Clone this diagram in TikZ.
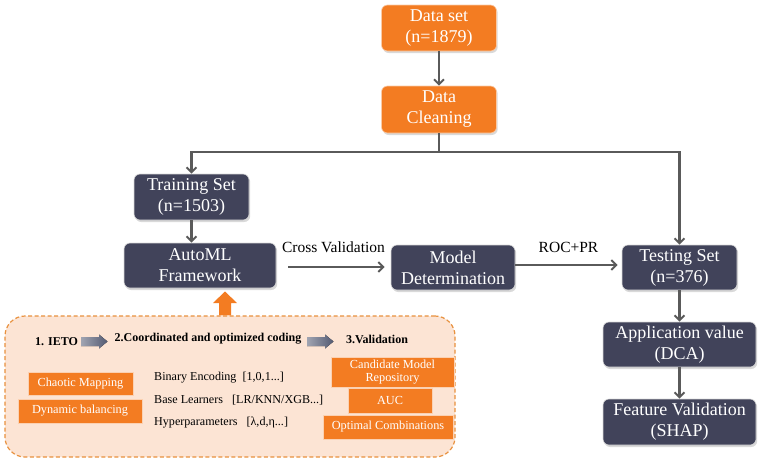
\documentclass[tikz,border=0pt]{standalone}
\usepackage{fontspec}
\setmainfont{Liberation Serif}
\usetikzlibrary{arrows.meta,shadows,calc}
\definecolor{orng}{HTML}{F37C22}
\definecolor{darkb}{HTML}{41435A}
\definecolor{arrg}{HTML}{5A5A5A}
\definecolor{peach}{HTML}{FCE4D4}
\definecolor{pborder}{HTML}{E8913E}
\definecolor{blockg}{HTML}{535A72}
\tikzset{
  mainbox/.style={rounded corners=6pt, text=white, align=center, inner sep=1pt,
    font=\fontsize{18}{21}\selectfont, draw=white!85!black, line width=0.6pt,
    drop shadow={opacity=0.3, shadow xshift=1.2pt, shadow yshift=-2pt}},
  darkbox/.style={mainbox, fill=darkb},
  orbox/.style={mainbox, fill=orng, draw=orng!40!white},
  smallbox/.style={fill=orng, draw=orng!35!white, line width=0.8pt, text=white, align=center,
    inner sep=1pt, font=\fontsize{12.3}{13.5}\selectfont,
    drop shadow={opacity=0.2, shadow xshift=1pt, shadow yshift=-1.2pt}},
  conn/.style={draw=arrg, line width=2.2pt, -{Straight Barb[length=5pt,width=10pt,line width=2pt]}},
  plainconn/.style={draw=arrg, line width=2.2pt},
  lbl/.style={font=\fontsize{15.5}{17}\selectfont, inner sep=1pt},
  hdr/.style={font=\fontsize{12}{14}\selectfont\bfseries, inner sep=0pt},
  ptxt/.style={font=\fontsize{12.1}{14}\selectfont, inner sep=0pt, anchor=west},
  grayblock/.style={left color=blockg!55!white, right color=blockg, draw=none},
}
\begin{document}
\begin{tikzpicture}[x=1pt,y=-1pt]
\useasboundingbox (0,0) rectangle (767,463);

% main nodes
\node[orbox, minimum width=115pt, minimum height=46pt] (ds) at (439,28) {Data set\\(n=1879)};
\node[orbox, minimum width=115pt, minimum height=47pt] (dc) at (439,109.5) {Data\\Cleaning};
\node[darkbox, minimum width=115pt, minimum height=46pt] (train) at (191.5,197) {Training Set\\(n=1503)};
\node[darkbox, minimum width=152pt, minimum height=45pt] (auto) at (200,265.5) {AutoML\\Framework};
\node[darkbox, minimum width=124pt, minimum height=45pt] (model) at (453,267.5) {Model\\Determination};
\node[darkbox, minimum width=115pt, minimum height=45pt] (test) at (679.5,267.5) {Testing Set\\(n=376)};
\node[darkbox, minimum width=153pt, minimum height=45pt] (app) at (679.5,344.5) {Application value\\(DCA)};
\node[darkbox, minimum width=153pt, minimum height=46pt] (feat) at (679.5,422) {Feature Validation\\(SHAP)};

\coordinate (j) at (439,152);

% connectors
\draw[conn] (ds.south) -- (dc.north);
\draw[plainconn] (dc.south) -- (j);
\draw[conn, line join=miter] (j) -| (train.north);
\draw[conn, line join=miter] (j) -| (test.north);
\draw[conn] (train.south) -- (auto.north -| train.south);
\draw[conn, shorten <=12pt, shorten >=6pt] (auto.east |- 0,267) -- node[lbl, above=12pt] (cv) {Cross Validation} (model.west |- 0,267);
\draw[conn, shorten >=4pt] (model.east |- 0,265) -- node[lbl, above=10pt] (roc) {ROC+PR} (test.west |- 0,265);
\draw[conn] (test.south) -- (app.north);
\draw[conn] (app.south) -- (feat.north);

% bottom panel
\node[draw=pborder, fill=peach, line width=1.2pt, rounded corners=20pt, dash pattern=on 4pt off 2.5pt,
  minimum width=450pt, minimum height=141pt, inner sep=0pt] (panel) at (230,386.5) {};

% orange block arrow from panel to AutoML
\fill[orng] (panel.north -| 219,0) -- (219,303) -- (213,303) -- (225,291.5) -- (237,303) -- (231,303) -- (panel.north -| 231,0) -- cycle;

% header row
\node[hdr] (s1) at (56.5,341.5) {1. IETO};
\fill[grayblock] (81,337) -- (99,337) -- (99,334.5) -- (107.5,341.5) -- (99,348.5) -- (99,346) -- (81,346) -- cycle;
\node[hdr] (s2) at (208,339) {2.Coordinated and optimized coding};
\fill[grayblock] (307,337) -- (325,337) -- (325,334.5) -- (333.5,341.5) -- (325,348.5) -- (325,346) -- (307,346) -- cycle;
\node[hdr] (s3) at (377,339) {3.Validation};

% left boxes
\node[smallbox, minimum width=105pt, minimum height=23pt] (cm) at (80.5,383.5) {Chaotic Mapping};
\node[smallbox, minimum width=124pt, minimum height=24pt] (db) at (80,411) {Dynamic balancing};

% middle text
\node[ptxt] (be) at (154,378) {Binary Encoding\ \ [1,0,1...]};
\node[ptxt] (bl) at (154,400) {Base Learners\ \ \ [LR/KNN/XGB...]};
\node[ptxt] (hp) at (154,423) {Hyperparameters\ \ \ [λ,d,η...]};

% right boxes
\node[smallbox, minimum width=123pt, minimum height=30pt] (cmr) at (392.5,372) {Candidate Model\\Repository};
\node[smallbox, minimum width=84pt, minimum height=25pt] (auc) at (390,400.5) {AUC};
\node[smallbox, minimum width=130pt, minimum height=24pt] (oc) at (388,427) {Optimal Combinations};
\end{tikzpicture}
\end{document}
